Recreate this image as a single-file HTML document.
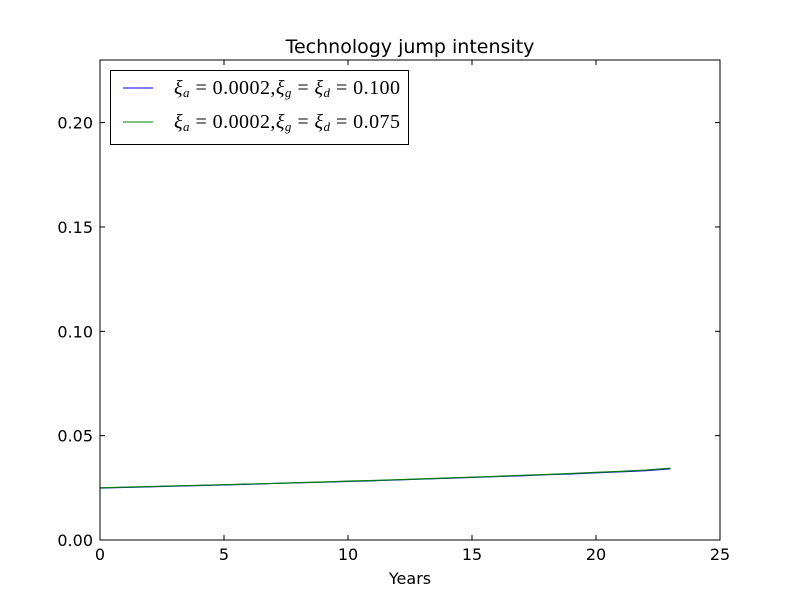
<!DOCTYPE html>
<html><head><meta charset="utf-8"><style>
body{margin:0;background:#fff;}
svg text{font-family:"DejaVu Sans","Liberation Sans",sans-serif;}
</style></head><body>
<svg id="chart" width="800" height="600" xmlns="http://www.w3.org/2000/svg">
<rect width="800" height="600" fill="#fff"/>
<text x="410" y="53" font-size="19" text-anchor="middle">Technology jump intensity</text>
<text x="410" y="584" font-size="16" text-anchor="middle">Years</text>
<g id="ticks"></g>
<g id="series"></g>
<rect x="100" y="60" width="620" height="480" fill="none" stroke="#000" stroke-width="1"/>
<g>
<rect x="110.5" y="70.5" width="298" height="74" fill="#fff" stroke="#000"/>
<line x1="123" y1="88" x2="153" y2="88" stroke="#0000ff"/>
<text x="174" y="94" font-size="20" textLength="226" lengthAdjust="spacing" style="font-family:'Liberation Serif',serif"><tspan font-style="italic">ξ</tspan><tspan font-size="13" font-style="italic" dy="3">a</tspan><tspan dy="-3"> = 0.0002,</tspan><tspan font-style="italic">ξ</tspan><tspan font-size="13" font-style="italic" dy="3">g</tspan><tspan dy="-3"> = </tspan><tspan font-style="italic">ξ</tspan><tspan font-size="13" font-style="italic" dy="3">d</tspan><tspan dy="-3"> = 0.100</tspan></text>
<line x1="123" y1="122" x2="153" y2="122" stroke="#008000"/>
<text x="174" y="128" font-size="20" textLength="226" lengthAdjust="spacing" style="font-family:'Liberation Serif',serif"><tspan font-style="italic">ξ</tspan><tspan font-size="13" font-style="italic" dy="3">a</tspan><tspan dy="-3"> = 0.0002,</tspan><tspan font-style="italic">ξ</tspan><tspan font-size="13" font-style="italic" dy="3">g</tspan><tspan dy="-3"> = </tspan><tspan font-style="italic">ξ</tspan><tspan font-size="13" font-style="italic" dy="3">d</tspan><tspan dy="-3"> = 0.075</tspan></text>
</g>
</svg>
<script>
const years = [0,1,2,3,4,5,6,7,8,9,10,11,12,13,14,15,16,17,18,19,20,21,22,23];
const series100 = [0.0249,0.0252,0.0255,0.0258,0.0261,0.0264,0.0267,0.0271,0.0274,0.0277,0.0281,0.0284,0.0288,0.0292,0.0296,0.0300,0.0304,0.0308,0.0313,0.0317,0.0322,0.0327,0.0332,0.0341];
const series075 = [0.0250,0.0253,0.0256,0.0259,0.0262,0.0265,0.0268,0.0271,0.0275,0.0278,0.0282,0.0285,0.0289,0.0293,0.0297,0.0301,0.0305,0.0310,0.0314,0.0319,0.0324,0.0329,0.0335,0.0344];
const xTicks = [0,5,10,15,20,25];
const yTicks = [0.00,0.05,0.10,0.15,0.20];
const xs = v => 100 + v/25*620;
const ys = v => 540 - v/0.23*480;
const NS = "http://www.w3.org/2000/svg";
const tg = document.getElementById('ticks');
xTicks.forEach(t=>{
  for (const [y1,y2] of [[540,535],[60,65]]) {
    const l=document.createElementNS(NS,'line');
    l.setAttribute('x1',xs(t));l.setAttribute('x2',xs(t));l.setAttribute('y1',y1);l.setAttribute('y2',y2);l.setAttribute('stroke','#000');
    
    
    tg.appendChild(l);
  }
  const tx=document.createElementNS(NS,'text');
  tx.setAttribute('x',xs(t));tx.setAttribute('y',560);tx.setAttribute('font-size','16');tx.setAttribute('text-anchor','middle');
  tx.textContent=t;
  
  
  tg.appendChild(tx);
});
yTicks.forEach(t=>{
  for (const [x1,x2] of [[100,105],[720,715]]) {
    const l=document.createElementNS(NS,'line');
    l.setAttribute('y1',ys(t));l.setAttribute('y2',ys(t));l.setAttribute('x1',x1);l.setAttribute('x2',x2);l.setAttribute('stroke','#000');
    
    
    tg.appendChild(l);
  }
  const tx=document.createElementNS(NS,'text');
  tx.setAttribute('x',93);tx.setAttribute('y',ys(t)+6);tx.setAttribute('font-size','16');tx.setAttribute('text-anchor','end');
  tx.textContent=t.toFixed(2);
  
  
  tg.appendChild(tx);
});
const sg=document.getElementById('series');
[[series100,'#0000ff','line-xi-0100'],[series075,'#008000','line-xi-0075']].forEach(([vals,col,name])=>{
  const p=document.createElementNS(NS,'polyline');
  p.setAttribute('points',vals.map((v,i)=>xs(years[i])+','+ys(v)).join(' '));
  p.setAttribute('fill','none');p.setAttribute('stroke',col);p.setAttribute('stroke-width','1.2');
  
  
  sg.appendChild(p);
});
</script>
</body></html>
